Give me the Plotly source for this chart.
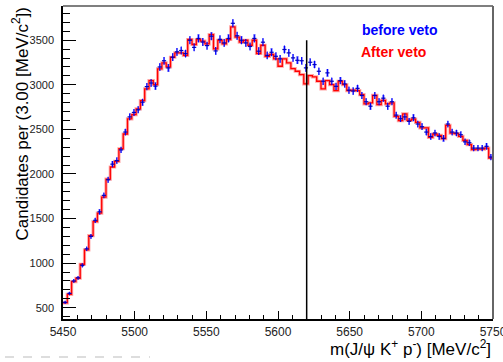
import numpy as np
import plotly.graph_objects as go

# m(J/psi K+ p-) histogram, 3 MeV bins from 5450 to 5750
bin_lo = 5450.0
bin_width = 3.0
n_bins = 100

# Candidates per bin before the veto (points with errors)
before_veto = [
    560, 660, 800, 835, 975, 1160, 1300, 1480, 1575, 1760,
    1935, 2110, 2150, 2270, 2470, 2640, 2690, 2720, 2805, 2980,
    3020, 2985, 3200, 3270, 3190, 3310, 3370, 3385, 3350, 3500,
    3420, 3520, 3480, 3440, 3545, 3380, 3510, 3470, 3520, 3690,
    3550, 3500, 3470, 3430, 3520, 3377, 3478, 3330, 3365, 3320,
    3291, 3396, 3358, 3302, 3275, 3270, 3190, 3253, 3227, 3152,
    3040, 3134, 3040, 2983, 3047, 3010, 2940, 2930, 2960, 2880,
    2810, 2760, 2880, 2810, 2850, 2760, 2810, 2660, 2620, 2640,
    2590, 2630, 2560, 2530, 2470, 2420, 2460, 2420, 2400, 2560,
    2470, 2460, 2440, 2360, 2350, 2290, 2290, 2290, 2310, 2190,
]

# Candidates per bin after the veto (step histogram)
after_veto = [
    553, 650, 792, 830, 987, 1148, 1309, 1466, 1561, 1740,
    1943, 2078, 2140, 2283, 2448, 2617, 2665, 2729, 2822, 2954,
    3047, 3002, 3179, 3246, 3201, 3309, 3358, 3358, 3331, 3508,
    3452, 3508, 3490, 3460, 3564, 3403, 3500, 3460, 3508, 3650,
    3534, 3478, 3500, 3444, 3500, 3351, 3444, 3320, 3340, 3291,
    3208, 3291, 3246, 3182, 3152, 3115, 3010, 3103, 3089, 3040,
    2954, 3047, 3002, 2935, 3040, 3002, 2935, 2940, 2935, 2890,
    2785, 2797, 2882, 2778, 2826, 2785, 2797, 2646, 2598, 2673,
    2601, 2616, 2579, 2516, 2516, 2410, 2448, 2433, 2396, 2545,
    2459, 2452, 2421, 2376, 2328, 2272, 2279, 2279, 2290, 2179,
]

veto_mass = 5620.0
veto_line_top = 3500.0

x_tick_vals = [5450, 5500, 5550, 5600, 5650, 5700, 5750]
y_tick_vals = [500, 1000, 1500, 2000, 2500, 3000, 3500]

edges = bin_lo + bin_width * np.arange(n_bins + 1)
centers = edges[:-1] + bin_width / 2
before = np.array(before_veto, dtype=float)
after = np.array(after_veto, dtype=float)
err = 0.75 * np.sqrt(before)

fig = go.Figure()

# translucent error boxes for the "before veto" points
fig.add_trace(go.Bar(
    x=centers, y=2 * err, base=before - err, width=1.6,
    marker=dict(color="rgba(70,70,255,0.42)", line=dict(width=0)),
    hoverinfo="skip", showlegend=False,
))

# "after veto" histogram: soft wide band plus thin red step line
step_y = np.append(after, after[-1])
fig.add_trace(go.Scatter(
    x=edges, y=step_y, mode="lines", line_shape="hv",
    line=dict(color="rgba(255,40,40,0.42)", width=3.2),
    hoverinfo="skip", showlegend=False,
))
fig.add_trace(go.Scatter(
    x=edges, y=step_y, mode="lines", line_shape="hv",
    line=dict(color="#ff0000", width=1.3),
    name="After veto", showlegend=False,
))

# "before veto" points with vertical error bars
fig.add_trace(go.Scatter(
    x=centers, y=before, mode="markers",
    marker=dict(symbol="line-ew", size=3, line=dict(color="#0000bb", width=1.2)),
    error_y=dict(type="data", array=err, color="#0000ff", thickness=1.1, width=0),
    name="before veto", showlegend=False,
))

# veto position marker
fig.add_shape(type="line", xref="x", yref="y",
              x0=veto_mass, x1=veto_mass, y0=373, y1=veto_line_top,
              line=dict(color="black", width=1.5))

# top and right frame edges
fig.add_shape(type="line", xref="paper", yref="paper", x0=0, x1=1, y0=1, y1=1,
              line=dict(color="#555555", width=1.5))
fig.add_shape(type="line", xref="paper", yref="paper", x0=1, x1=1, y0=0, y1=1,
              line=dict(color="#666666", width=2))

# faint dashed line at the bottom-left corner
fig.add_shape(type="line", xref="paper", yref="paper",
              x0=(5 - 63) / 430, x1=(150 - 63) / 430,
              y0=-(357 - 319) / 313, y1=-(357 - 319) / 313,
              line=dict(color="#bbbbbb", width=1, dash="dash"))

font_family = "Liberation Sans, Arial, sans-serif"

fig.update_layout(
    width=503, height=362,
    margin=dict(l=63, r=10, t=6, b=43),
    paper_bgcolor="white", plot_bgcolor="white",
    showlegend=False, bargap=0,
    font=dict(family=font_family, color="black"),
    xaxis=dict(
        range=[5450, 5750], showgrid=False, zeroline=False, automargin=False,
        showline=True, linecolor="black", linewidth=1.5,
        ticks="inside", ticklen=8, tickwidth=1, tickcolor="black",
        tickvals=x_tick_vals, ticktext=[str(v) for v in x_tick_vals],
        tickfont=dict(size=12, family=font_family, color="#222222"),
        ticklabelstandoff=1, ticklabeloverflow="allow",
        minor=dict(ticks="inside", ticklen=4, dtick=10, tick0=5450, tickcolor="black"),
    ),
    yaxis=dict(
        range=[373, 3884], showgrid=False, zeroline=False, automargin=False,
        showline=True, linecolor="black", linewidth=1.5,
        ticks="inside", ticklen=13, tickwidth=1, tickcolor="black",
        tickvals=y_tick_vals, ticktext=[str(v) for v in y_tick_vals],
        tickfont=dict(size=11, family=font_family, color="#222222"),
        ticklabelstandoff=5,
        minor=dict(ticks="inside", ticklen=7, dtick=100, tick0=500, tickcolor="black"),
    ),
    annotations=[
        dict(text="Candidates per (3.00 [MeV/c<sup>2</sup>])",
             xref="paper", yref="paper", x=(20 - 63) / 430, y=1.0,
             xanchor="center", yanchor="top", textangle=-90, showarrow=False,
             font=dict(size=17, family=font_family, color="black")),
        dict(text="m(J/\u03c8 K<sup>+</sup> p<sup>-</sup>) [MeV/c<sup>2</sup>]",
             xref="paper", yref="paper", x=1.0, y=-(361 - 319) / 313,
             xanchor="right", yanchor="bottom", showarrow=False,
             font=dict(size=17, family=font_family, color="black")),
        dict(text="<b>before veto</b>",
             xref="paper", yref="paper", x=(360 - 63) / 430, y=1 - (30 - 6) / 313,
             xanchor="left", yanchor="middle", showarrow=False,
             font=dict(size=14, family=font_family, color="#0000ff")),
        dict(text="<b>After veto</b>",
             xref="paper", yref="paper", x=(359 - 63) / 430, y=1 - (52 - 6) / 313,
             xanchor="left", yanchor="middle", showarrow=False,
             font=dict(size=14, family=font_family, color="#ff0000")),
    ],
)

fig.write_html("out.html")
